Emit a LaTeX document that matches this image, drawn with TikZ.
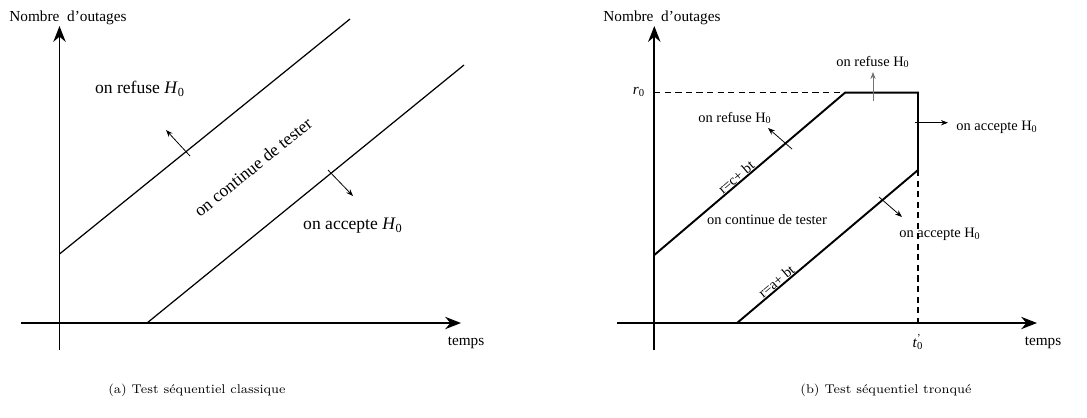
\documentclass[tikz,border=0pt]{standalone}
\usepackage{fontspec}
\newfontfamily\figfont{Liberation Serif}
\usetikzlibrary{arrows.meta}

\tikzset{
  axe/.style={line width=1.1pt, -{Stealth[length=9pt,width=7pt]}},
  fleche/.style={line width=0.45pt, -{Stealth[length=4pt,width=3pt]}},
  borne/.style={line width=1.1pt},
  pointille/.style={line width=0.9pt, dash pattern=on 3.5pt off 2.5pt},
  txt/.style={font=\figfont\fontsize{8.7}{10}\selectfont, inner sep=1pt},
  grand/.style={font=\figfont\fontsize{10}{12}\selectfont, inner sep=1pt},
  petit/.style={font=\figfont\fontsize{8.2}{10}\selectfont, inner sep=1pt},
  legende/.style={font=\fontsize{7.2}{9}\selectfont, inner sep=1pt}
}

\begin{document}
\begin{tikzpicture}[x=0.02cm, y=-0.02cm]
    \useasboundingbox (0,0) rectangle (1087,417);

    % (a) test classique
    \coordinate (Xa0) at (21,323);
    \coordinate (Xa)  at (461,323);
    \coordinate (Ya0) at (59.5,350);
    \coordinate (Ya)  at (59.5,26);
    \coordinate (Ca0) at (59.5,254);
    \coordinate (Ca1) at (350,19);
    \coordinate (Aa0) at (147,323);
    \coordinate (Aa1) at (464,65);

    \draw[axe] (Xa0) -- (Xa);
    \draw[axe] (Ya0) -- (Ya);
    \draw[line width=0.7pt] (Ca0) -- (Ca1);
    \draw[line width=0.7pt] (Aa0) -- (Aa1);

    \node[txt] (nbA) at (68,18) {Nombre~~d’outages};
    \node[txt] (tpsA) at (466,343) {temps};
    \node[grand] (refA) at (140,89) {on refuse \textit{H}\textsubscript{0}};
    \node[grand, rotate=39] (contA) at (253,167) {on continue de tester};
    \node[grand] (accA) at (353,226) {on accepte \textit{H}\textsubscript{0}};

    \coordinate (fr0) at (190,156);
    \coordinate (fr1) at (166,130);
    \coordinate (fa0) at (328,170);
    \coordinate (fa1) at (353,196);
    \draw[fleche] (fr0) -- (fr1);
    \draw[fleche] (fa0) -- (fa1);

    \node[legende] (capA) at (197,390) {(a) Test séquentiel classique};

    % (b) test tronque
    \coordinate (Xb0) at (617,323);
    \coordinate (Xb)  at (1037,323);
    \coordinate (Yb0) at (654.3,350);
    \coordinate (Yb)  at (654.3,26);
    \coordinate (Cb0) at (654.3,255);
    \coordinate (Cb1) at (845,92.7);
    \coordinate (Cb2) at (918,92.7);
    \coordinate (Cb3) at (918,170);
    \coordinate (Ab0) at (737,323);
    \coordinate (R0)  at (654.3,92.7);
    \coordinate (T0)  at (918,323);

    \draw[axe] (Xb0) -- (Xb);
    \draw[axe] (Yb0) -- (Yb);
    \draw[pointille] (R0) -- (Cb1);
    \draw[pointille] (Cb3) -- (T0);
    \draw[borne] (Cb0) -- (Cb1) -- (Cb2) -- (Cb3);
    \draw[borne] (Ab0) -- (Cb3);

    \path (Cb0) -- (Cb1) node[petit, pos=0.45, sloped, above, inner sep=0.5pt] (eqC) {r=c+ bt};
    \path (Ab0) -- (Cb3) node[petit, pos=0.24, sloped, above, inner sep=0.5pt] (eqA) {r=a+ bt};

    \node[txt] (nbB) at (662,18) {Nombre~~d’outages};
    \node[txt] (tpsB) at (1043,343) {temps};
    \node[txt] (r0) at (639,92) {\textit{r}\textsubscript{0}};
    \node[txt] (t0) at (918,342) {\textit{t}\rlap{\textsuperscript{’}}\textsubscript{0}};

    \node[petit] (refB1) at (873,62) {on refuse H\textsubscript{0}};
    \node[petit] (accB1) at (997,127) {on accepte H\textsubscript{0}};
    \node[petit] (refB2) at (735,118) {on refuse H\textsubscript{0}};
    \node[petit] (contB) at (767,220) {on continue de tester};
    \node[petit] (accB2) at (940,234) {on accepte H\textsubscript{0}};

    \coordinate (g0) at (873,101);
    \coordinate (g1) at (873,72);
    \coordinate (h0) at (915,122.7);
    \coordinate (h1) at (948,122.7);
    \coordinate (k0) at (792,149);
    \coordinate (k1) at (768,128);
    \coordinate (m0) at (879,197);
    \coordinate (m1) at (902,217);
    \draw[fleche, black!55] (g0) -- (g1);
    \draw[fleche] (h0) -- (h1);
    \draw[fleche] (k0) -- (k1);
    \draw[fleche] (m0) -- (m1);

    \node[legende] (capB) at (886,390) {(b) Test séquentiel tronqué};
\end{tikzpicture}
\end{document}
